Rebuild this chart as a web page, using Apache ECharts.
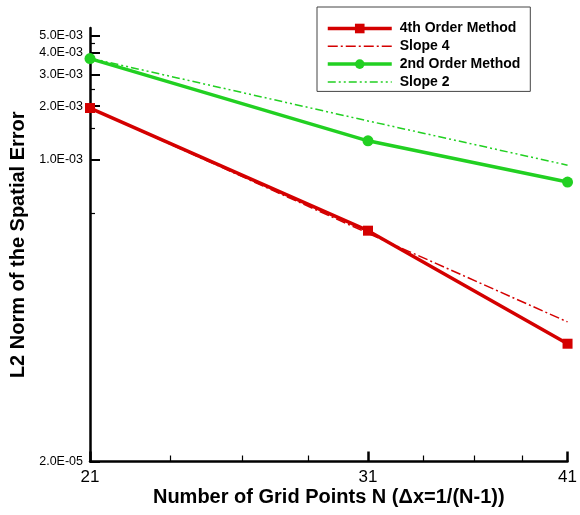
<!DOCTYPE html>
<html>
<head>
<meta charset="utf-8">
<script src="https://cdn.jsdelivr.net/npm/echarts@6/dist/echarts.min.js"></script>
<style>
  html, body { margin: 0; padding: 0; background: #fff; }
  #chart { width: 580px; height: 515px; }
</style>
</head>
<body>
<div id="chart"></div>
<script>
// Grid sizes N and the measured L2 spatial errors
const gridPoints  = [21, 31, 41];
const fourthOrder = [1.95e-3, 3.98e-4, 9.2e-5];
const slope4      = [1.95e-3, 3.85e-4, 1.22e-4];
const secondOrder = [3.70e-3, 1.275e-3, 7.47e-4];
const slope2      = [3.72e-3, 1.65e-3, 9.3e-4];

const seriesNames = ['4th Order Method', 'Slope 4', '2nd Order Method', 'Slope 2'];

// Axis ticks
const xMajorTicks  = [21, 31, 41];
const xMinorTicks  = [23.5, 26, 28.5, 33.5, 36, 38.5];
const yMajorTicks  = [2e-5, 1e-3, 2e-3, 3e-3, 4e-3, 5e-3];
const yMajorLabels = ['2.0E-05', '1.0E-03', '2.0E-03', '3.0E-03', '4.0E-03', '5.0E-03'];
const yMinorTicks  = [5e-4, 1.5e-3, 2.5e-3, 4.5e-3];

const FONT = '"Liberation Sans", Arial, Helvetica, sans-serif';
const RED = '#d40000';
const GREEN = '#22d022';
const X_MIN = 21, X_MAX = 41, Y_MIN = 2e-5, Y_MAX = 5.5e-3;

function pairs(ys) { return gridPoints.map((n, i) => [n, ys[i]]); }

function yLabel(v) {
  const i = yMajorTicks.findIndex(t => Math.abs(Math.log10(t) - Math.log10(v)) < 1e-6);
  return i < 0 ? '' : yMajorLabels[i];
}

const chart = echarts.init(document.getElementById('chart'), null, { renderer: 'canvas' });

chart.setOption({
  animation: false,
  backgroundColor: '#fff',
  textStyle: { fontFamily: FONT },
  grid: { left: 90, right: 9, top: 28, bottom: 53.5, containLabel: false },
  legend: {
    orient: 'vertical',
    left: 317, top: 7,
    padding: [14.5, 10, 2.5, 9],
    itemWidth: 64, itemHeight: 12, itemGap: 3.8,
    borderColor: '#444', borderWidth: 1, backgroundColor: '#fff',
    textStyle: { fontFamily: FONT, fontWeight: 'bold', fontSize: 14, color: '#000', padding: [0, 0, 0, 3] },
    data: [
      { name: seriesNames[0], lineStyle: { width: 3.5 } },
      { name: seriesNames[1], lineStyle: { width: 1.5 }, itemStyle: { opacity: 0 } },
      { name: seriesNames[2], lineStyle: { width: 3.5 } },
      { name: seriesNames[3], lineStyle: { width: 1.5 }, itemStyle: { opacity: 0 } }
    ]
  },
  xAxis: [
    {
      type: 'log', logBase: 10, min: X_MIN, max: X_MAX, position: 'bottom',
      name: 'Number of Grid Points N (\u0394x=1/(N-1))',
      nameLocation: 'middle', nameGap: 26, nameMoveOverlap: false,
      nameTextStyle: { fontFamily: FONT, fontWeight: 'bold', fontSize: 20, color: '#000' },
      axisLine: { show: true, lineStyle: { color: '#000', width: 2.5 } },
      axisTick: { show: true, inside: true, length: 10, customValues: xMajorTicks, lineStyle: { color: '#000', width: 2.5 } },
      axisLabel: { show: true, customValues: xMajorTicks, margin: 7, fontSize: 17, color: '#000', fontFamily: FONT },
      splitLine: { show: false }, minorTick: { show: false }
    },
    {
      type: 'log', logBase: 10, min: X_MIN, max: X_MAX, position: 'bottom',
      axisLine: { show: false },
      axisTick: { show: true, inside: true, length: 6, customValues: xMinorTicks, lineStyle: { color: '#000', width: 1.2 } },
      axisLabel: { show: false },
      splitLine: { show: false }
    }
  ],
  yAxis: [
    {
      type: 'log', logBase: 10, min: Y_MIN, max: Y_MAX, position: 'left',
      name: 'L2 Norm of the Spatial Error',
      nameLocation: 'middle', nameGap: 58,
      nameTextStyle: { fontFamily: FONT, fontWeight: 'bold', fontSize: 20, color: '#000' },
      axisLine: { show: true, lineStyle: { color: '#000', width: 2.5 } },
      axisTick: { show: true, inside: true, length: 10, customValues: yMajorTicks, lineStyle: { color: '#000', width: 2 } },
      axisLabel: {
        show: true, customValues: yMajorTicks, margin: 7, fontSize: 12.5, color: '#000', fontFamily: FONT,
        formatter: yLabel
      },
      splitLine: { show: false }, minorTick: { show: false }
    },
    {
      type: 'log', logBase: 10, min: Y_MIN, max: Y_MAX, position: 'left',
      axisLine: { show: false },
      axisTick: { show: true, inside: true, length: 5, customValues: yMinorTicks, lineStyle: { color: '#000', width: 1.2 } },
      axisLabel: { show: false },
      splitLine: { show: false }
    }
  ],
  series: [
    {
      name: seriesNames[0], type: 'line', data: pairs(fourthOrder), clip: false, z: 4,
      symbol: 'rect', symbolSize: 10,
      lineStyle: { color: RED, width: 3.5 }, itemStyle: { color: RED }
    },
    {
      name: seriesNames[1], type: 'line', data: pairs(slope4), clip: false, z: 5,
      symbol: 'none',
      lineStyle: { color: RED, width: 1.5, type: [10, 3, 2, 3] }, itemStyle: { color: RED }
    },
    {
      name: seriesNames[2], type: 'line', data: pairs(secondOrder), clip: false, z: 4,
      symbol: 'circle', symbolSize: 11,
      lineStyle: { color: GREEN, width: 3.5 }, itemStyle: { color: GREEN }
    },
    {
      name: seriesNames[3], type: 'line', data: pairs(slope2), clip: false, z: 5,
      symbol: 'none',
      lineStyle: { color: GREEN, width: 1.5, type: [8, 3, 2, 3, 2, 3] }, itemStyle: { color: GREEN }
    }
  ]
});
</script>
</body>
</html>
